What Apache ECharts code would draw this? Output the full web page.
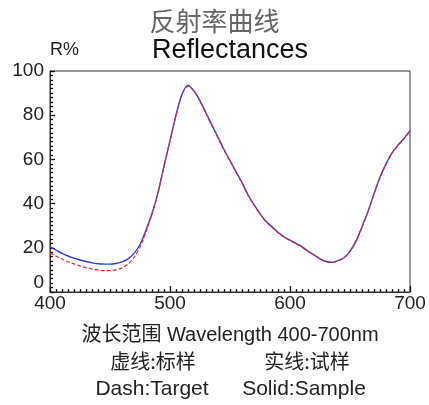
<!DOCTYPE html>
<html>
<head>
<meta charset="utf-8">
<script src="https://cdn.jsdelivr.net/npm/echarts@6/dist/echarts.min.js"></script>
<style>
html,body{margin:0;padding:0;background:#fff;}
#chart{width:429px;height:405px;}
</style>
</head>
<body>
<div id="chart"></div>
<script>
var wavelengths = [400,405,410,415,420,425,430,435,440,445,450,455,460,465,470,475,480,485,490,495,500,505,510,515,520,525,530,535,540,545,550,555,560,565,570,575,580,585,590,595,600,605,610,615,620,625,630,635,640,645,650,655,660,665,670,675,680,685,690,695,700];
var sampleValues = [20.5,19.0,17.5,16.3,15.3,14.5,13.8,13.2,12.8,12.6,12.6,12.9,13.6,15.0,17.5,21.5,28.0,35.5,45.0,57.0,68.5,80.0,89.5,93.5,91.0,86.5,81.0,75.5,70.0,64.5,59.5,54.5,49.5,44.0,39.5,35.5,32.0,29.5,27.0,25.0,23.5,22.0,20.5,18.5,16.8,15.0,13.8,13.4,14.2,15.5,18.5,23.0,29.5,36.5,44.5,52.0,58.0,63.0,66.5,69.5,73.0];
var targetValues = [17.7,16.3,14.9,13.7,12.7,11.8,11.0,10.4,10.0,9.7,9.7,10.0,10.9,12.6,15.6,20.3,27.2,35.2,44.8,56.8,68.3,79.8,89.3,93.2,90.8,86.3,80.8,75.2,69.7,64.2,59.2,54.2,49.2,43.8,39.3,35.3,31.8,29.2,26.8,24.8,23.2,21.8,20.3,18.4,16.7,15.0,13.8,13.4,14.1,15.4,18.3,22.8,29.2,36.2,44.2,51.7,57.7,62.7,66.3,69.3,72.8];
var xTicks = [400, 500, 600, 700];
var yTicks = [0, 20, 40, 60, 80, 100];

var titleCn = '反射率曲线';
var titleEn = 'Reflectances';
var yName = 'R%';
var xName = '波长范围 Wavelength 400-700nm';
var legendCnDash = '虚线:标样';
var legendCnSolid = '实线:试样';
var legendEnDash = 'Dash:Target';
var legendEnSolid = 'Solid:Sample';

function pairs(xs, ys){ return xs.map(function(x,i){ return [x, ys[i]]; }); }

var FONT = '"Liberation Sans", Arial, "Noto Sans CJK SC", sans-serif';
var CJK = '"Noto Sans CJK SC", "Liberation Sans", sans-serif';

var chart = echarts.init(document.getElementById('chart'), null, {renderer:'canvas'});
var tickColor = '#111';
var xMin = xTicks[0], xMax = xTicks[xTicks.length-1];
var yMin = yTicks[0], yMax = yTicks[yTicks.length-1];
chart.setOption({
  animation: false,
  backgroundColor: '#fff',
  grid: {left: 50, right: 19, top: 71, bottom: 113, show: true, borderColor: '#333', borderWidth: 1},
  xAxis: [{
    type: 'value', min: xMin, max: xMax, interval: 100, position: 'bottom',
    axisLine: {show: true, onZero: false, lineStyle: {color: '#333', width: 1}},
    axisTick: {show: true, inside: true, length: 6, lineStyle: {color: tickColor, width: 1.3}},
    minorTick: {show: true, splitNumber: 20, length: 3, lineStyle: {color: tickColor, width: 1.3}},
    splitLine: {show: false},
    axisLabel: {color: '#222', fontSize: 19, fontFamily: FONT, margin: 2}
  }],
  yAxis: [{
    type: 'value', min: yMin, max: yMax, interval: 20, position: 'left',
    axisLine: {show: true, onZero: false, lineStyle: {color: '#333', width: 1}},
    axisTick: {show: true, inside: true, length: 5, lineStyle: {color: tickColor, width: 1.3}},
    minorTick: {show: true, splitNumber: 10, length: 3, lineStyle: {color: tickColor, width: 1.3}},
    splitLine: {show: false},
    axisLabel: {color: '#222', fontSize: 19, fontFamily: FONT, margin: 6, verticalAlignMinLabel: 'bottom'}
  }],
  series: [{
    name: 'Sample', type: 'line', smooth: 0.3, showSymbol: false,
    data: pairs(wavelengths, sampleValues),
    lineStyle: {color: '#2f3fd6', width: 1.4, type: 'solid'}
  },{
    name: 'Target', type: 'line', smooth: 0.3, showSymbol: false,
    data: pairs(wavelengths, targetValues),
    lineStyle: {color: '#e02a3a', width: 1.2, type: [4, 2]}
  }],
  graphic: [
    {type: 'text', left: 'center', top: 8, style: {text: titleCn, font: '26px ' + CJK, fill: '#666'}},
    {type: 'text', x: 230, y: 51, style: {text: titleEn, font: '27px ' + FONT, fill: '#111', align: 'center', verticalAlign: 'middle'}},
    {type: 'text', x: 50, y: 50, style: {text: yName, font: '18px ' + FONT, fill: '#222', align: 'left', verticalAlign: 'middle'}},
    {type: 'text', x: 230, y: 335, style: {text: xName, font: '20px ' + FONT, fill: '#222', align: 'center', verticalAlign: 'middle'}},
    {type: 'text', x: 153, y: 361, style: {text: legendCnDash, font: '20px ' + CJK, fill: '#222', align: 'center', verticalAlign: 'middle'}},
    {type: 'text', x: 307, y: 361, style: {text: legendCnSolid, font: '20px ' + CJK, fill: '#222', align: 'center', verticalAlign: 'middle'}},
    {type: 'text', x: 152, y: 389, style: {text: legendEnDash, font: '21px ' + FONT, fill: '#222', align: 'center', verticalAlign: 'middle'}},
    {type: 'text', x: 304, y: 389, style: {text: legendEnSolid, font: '21px ' + FONT, fill: '#222', align: 'center', verticalAlign: 'middle'}}
  ]
});
</script>
</body>
</html>
